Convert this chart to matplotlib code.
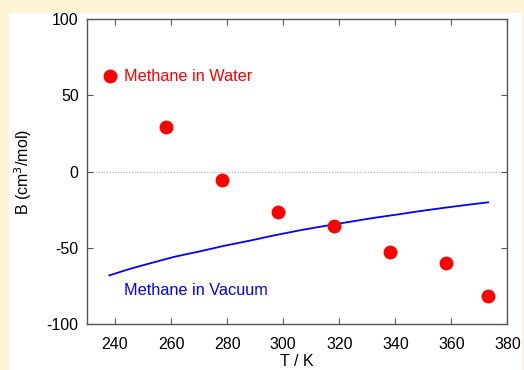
import matplotlib.pyplot as plt
from matplotlib.patches import Rectangle

plt.rcParams['font.family'] = ['Liberation Sans', 'DejaVu Sans']
plt.rcParams['axes.unicode_minus'] = False

# simulation results, methane in water
T_water = [238.15, 258.15, 278.15, 298.15, 318.15, 338.15, 358.15, 373.15]
B_water = [62.6, 29.2, -5.6, -26.8, -35.9, -52.6, -60.2, -81.4]

# second virial coefficient in vacuum
T_vac = [238.0, 245.0, 252.5, 261.0, 270.4, 279.0, 288.2, 297.0, 306.1,
         314.5, 323.0, 332.0, 341.8, 349.0, 357.0, 365.0, 373.1]
B_vac = [-68.1, -64.0, -60.2, -56.0, -52.3, -48.7, -45.3, -41.8, -38.5,
         -35.8, -33.2, -30.5, -27.9, -25.9, -23.9, -22.0, -20.2]

x_ticks = [240, 260, 280, 300, 320, 340, 360, 380]
y_ticks = [-100, -50, 0, 50, 100]

fig = plt.figure(figsize=(5.24, 3.70), dpi=100)
fig.patch.set_facecolor('#fdf3d6')
# white panel behind the plot
fig.patches.append(Rectangle((9 / 524, 0), 513 / 524, 357 / 370,
                             transform=fig.transFigure, facecolor='white',
                             edgecolor='none', zorder=-10))

ax = fig.add_axes([0.166, 0.1243, 0.8025, 0.8243])
ax.set_facecolor('white')

ax.axhline(0, color='#aaaaaa', lw=0.8, ls=(0, (1, 1.5)), zorder=1)
ax.plot(T_vac, B_vac, color='#0000ff', lw=1.3, zorder=2)
ax.plot(T_water, B_water, 'o', color='#ff0000', ms=10, mec='none', zorder=3)

ax.text(243.2, 62.6, 'Methane in Water', color='#ff0000', fontsize=11.7, va='center')
ax.text(243.2, -77.7, 'Methane in Vacuum', color='#0000ff', fontsize=11.7, va='center')

ax.set_xlim(230, 380)
ax.set_ylim(-100, 100)
ax.set_xticks(x_ticks)
ax.set_yticks(y_ticks)
ax.tick_params(direction='in', top=True, right=True, length=4, width=0.8,
               color='#555555', labelsize=11.5, pad=6)
ax.tick_params(axis='x', labeltop=False, pad=9)
for s in ax.spines.values():
    s.set_color('#555555')
    s.set_linewidth(1.0)

ax.set_xlabel('T / K', fontsize=11.5, labelpad=2)
ax.set_ylabel('B (cm$^3$/mol)', fontsize=11.5, labelpad=9)

fig.savefig('out.png', dpi=100, facecolor=fig.get_facecolor())
